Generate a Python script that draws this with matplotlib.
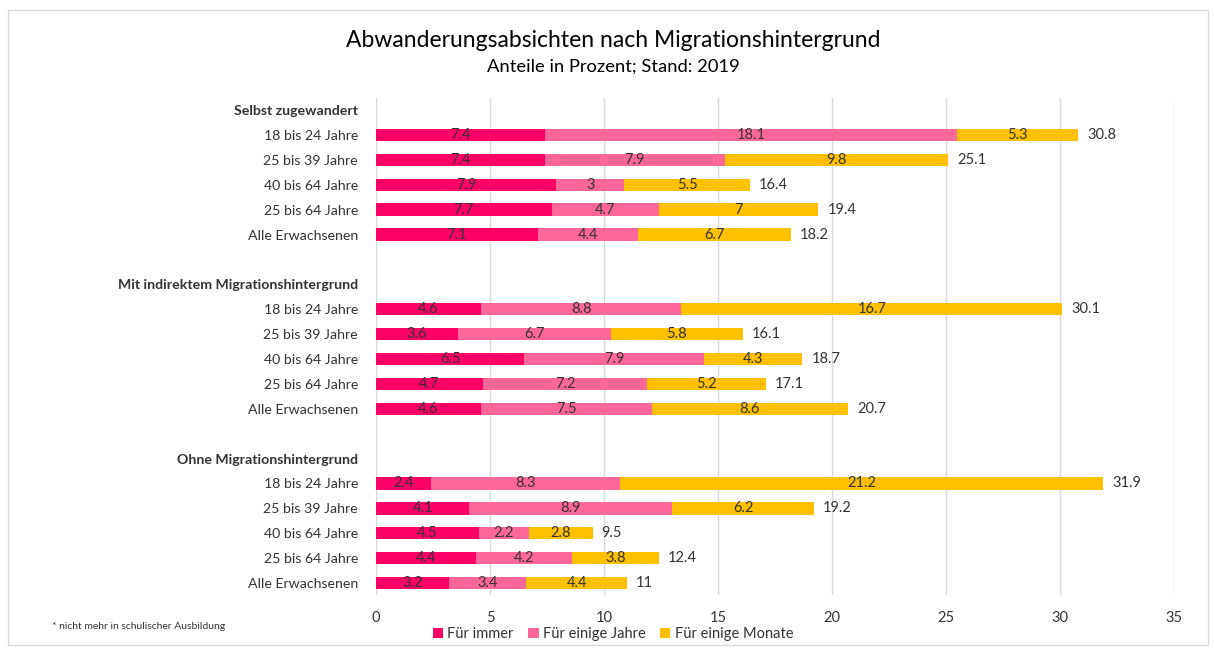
from matplotlib import pyplot as plt
from matplotlib.patches import Rectangle
import numpy as np

plt.rcParams['font.family'] = ['Lato', 'DejaVu Sans']

groups = ['Selbst zugewandert', 'Mit indirektem Migrationshintergrund', 'Ohne Migrationshintergrund']
ages = ['18 bis 24 Jahre', '25 bis 39 Jahre', '40 bis 64 Jahre', '25 bis 64 Jahre', 'Alle Erwachsenen']
series_names = ['Für immer', 'Für einige Jahre', 'Für einige Monate']

fuer_immer = [7.4, 7.4, 7.9, 7.7, 7.1,
              4.6, 3.6, 6.5, 4.7, 4.6,
              2.4, 4.1, 4.5, 4.4, 3.2]
einige_jahre = [18.1, 7.9, 3, 4.7, 4.4,
                8.8, 6.7, 7.9, 7.2, 7.5,
                8.3, 8.9, 2.2, 4.2, 3.4]
einige_monate = [5.3, 9.8, 5.5, 7, 6.7,
                 16.7, 5.8, 4.3, 5.2, 8.6,
                 21.2, 6.2, 2.8, 3.8, 4.4]
totals = [30.8, 25.1, 16.4, 19.4, 18.2,
          30.1, 16.1, 18.7, 17.1, 20.7,
          31.9, 19.2, 9.5, 12.4, 11]

colors = ['#ff0066', '#ff6699', '#ffc000']
text_col = '#333333'

# row layout: header, 5 rows, blank, header, 5 rows, blank, ...
ypos = []
tick_pos = []
tick_lab = []
row = 0
for gi, g in enumerate(groups):
    tick_pos.append(row)
    tick_lab.append(g)
    row += 1
    for a in ages:
        ypos.append(row)
        tick_pos.append(row)
        tick_lab.append(a)
        row += 1
    row += 1
ypos = np.array(ypos)

fig = plt.figure(figsize=(12.14, 6.51), dpi=100)
ax = fig.add_axes([0.3097, 0.0853, 0.6573, 0.7647])

left = np.zeros(len(ypos))
for vals, col, name in zip([fuer_immer, einige_jahre, einige_monate], colors, series_names):
    vals = np.array(vals)
    ax.barh(ypos, vals, left=left, height=0.5, color=col, label=name, zorder=2)
    for y, l, v in zip(ypos, left, vals):
        ax.text(l + v / 2, y, f'{v:g}', ha='center', va='center', fontsize=10.5, color=text_col, zorder=3)
    left += vals

for y, t in zip(ypos, totals):
    ax.text(t + 0.4, y, f'{t:g}', ha='left', va='center', fontsize=10.5, color=text_col)

ax.set_xlim(0, 35)
ax.set_ylim(row - 1.5, -0.5)
ax.set_xticks(np.arange(0, 36, 5))
ax.set_yticks(tick_pos)
ax.set_yticklabels(tick_lab)
for lbl in ax.get_yticklabels():
    if lbl.get_text() in groups:
        lbl.set_fontweight('bold')
ax.tick_params(axis='both', length=0, labelsize=10.5, labelcolor=text_col)
ax.tick_params(axis='y', labelsize=10.2, pad=13)
ax.tick_params(axis='x', pad=11)
ax.grid(axis='x', color='#d9d9d9', linewidth=1, zorder=0)
for s in ax.spines.values():
    s.set_visible(False)

fig.text(0.505, 0.938, 'Abwanderungsabsichten nach Migrationshintergrund', ha='center', va='center',
         fontsize=16.5, color='#000000')
fig.text(0.505, 0.897, 'Anteile in Prozent; Stand: 2019', ha='center', va='center',
         fontsize=13.2, color='#000000')
fig.text(0.043, 0.038, '* nicht mehr in schulischer Ausbildung', ha='left', va='center',
         fontsize=7.5, color=text_col)

fig.legend(loc='center', bbox_to_anchor=(0.505, 0.026), ncol=3, frameon=False, fontsize=10.5,
           handlelength=0.7, handleheight=0.7, handletextpad=0.3, columnspacing=1.0,
           labelcolor=text_col)

fig.patches.append(Rectangle((8 / 1214, 6 / 651), 1200 / 1214, 635 / 651, transform=fig.transFigure,
                             fill=False, edgecolor='#d9d9d9', linewidth=1))

fig.savefig('out.png', dpi=100)
